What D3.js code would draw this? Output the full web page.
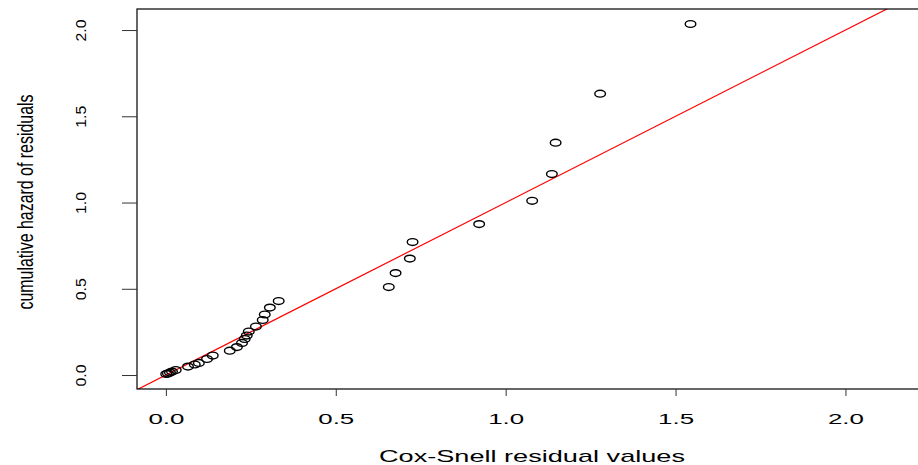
<!DOCTYPE html>
<meta charset="utf-8">
<style>
  body { margin: 0; background: #fff; }
  text { font-family: "Liberation Sans", Arial, sans-serif; fill: #000; }
  .tick line { stroke: #333; }
</style>
<body>
<script src="https://d3js.org/d3.v7.min.js"></script>
<script>

// Cox-Snell residuals vs cumulative hazard
var residuals = [0.001, 0.006, 0.012, 0.018, 0.029, 0.065, 0.085, 0.097, 0.121, 0.138,
                 0.188, 0.209, 0.224, 0.232, 0.238, 0.244, 0.265, 0.285, 0.291, 0.306,
                 0.332, 0.656, 0.676, 0.718, 0.726, 0.922, 1.078, 1.136, 1.147, 1.278, 1.544];
var cumHazard = [0.006, 0.009, 0.014, 0.020, 0.029, 0.049, 0.061, 0.070, 0.093, 0.113,
                 0.141, 0.162, 0.186, 0.209, 0.229, 0.252, 0.281, 0.319, 0.351, 0.391,
                 0.429, 0.510, 0.591, 0.675, 0.771, 0.875, 1.010, 1.165, 1.347, 1.631, 2.035];
var xTicks = [0, 0.5, 1.0, 1.5, 2.0];
var yTicks = [0, 0.5, 1.0, 1.5, 2.0];

var width = 918,
    height = 465,
    plotL = 137, plotR = 927, plotT = 9, plotB = 389;

var x = d3.scaleLinear().domain([-0.085, 2.24]).range([plotL, plotR]);
var y = d3.scaleLinear().domain([-0.081, 2.122]).range([plotB, plotT]);

var svg = d3.select("body").append("svg")
    .attr("width", width)
    .attr("height", height);

svg.append("clipPath").attr("id", "plotclip")
  .append("rect")
    .attr("x", plotL).attr("y", plotT)
    .attr("width", plotR - plotL).attr("height", plotB - plotT);

// reference line y = x
svg.append("line")
    .attr("clip-path", "url(#plotclip)")
    .attr("x1", x(-0.2)).attr("y1", y(-0.2))
    .attr("x2", x(2.5)).attr("y2", y(2.5))
    .attr("stroke", "#ff0000")
    .attr("stroke-width", 1.2);

// points
svg.append("g").selectAll("ellipse")
    .data(residuals)
  .enter().append("ellipse")
    .attr("cx", function(d) { return x(d); })
    .attr("cy", function(d, i) { return y(cumHazard[i]); })
    .attr("rx", 5.3)
    .attr("ry", 3.4)
    .attr("fill", "none")
    .attr("stroke", "#000")
    .attr("stroke-width", 1.4);

// box
svg.append("rect")
    .attr("x", plotL).attr("y", plotT)
    .attr("width", plotR - plotL).attr("height", plotB - plotT)
    .attr("fill", "none")
    .attr("stroke", "#000")
    .attr("stroke-width", 1.2);

// x axis
var gx = svg.append("g")
    .attr("transform", "translate(0," + plotB + ")")
    .call(d3.axisBottom(x).tickValues(xTicks).tickSize(7).tickFormat(d3.format(".1f")));
gx.select(".domain").remove();
gx.selectAll("text")
    .attr("y", 35)
    .attr("dy", null)
    .attr("font-size", 14)
    .attr("textLength", 36)
    .attr("lengthAdjust", "spacingAndGlyphs");

// y axis
var gy = svg.append("g")
    .attr("transform", "translate(" + plotL + ",0)")
    .call(d3.axisLeft(y).tickValues(yTicks).tickSize(15).tickFormat(d3.format(".1f")));
gy.select(".domain").remove();
gy.selectAll("text")
    .attr("transform", "rotate(-90)")
    .attr("x", 0)
    .attr("y", -51)
    .attr("dy", null)
    .attr("text-anchor", "middle")
    .attr("font-size", 15)
    .attr("textLength", 22)
    .attr("lengthAdjust", "spacingAndGlyphs");

// axis titles
svg.append("text")
    .attr("x", 532)
    .attr("y", 462)
    .attr("text-anchor", "middle")
    .attr("font-size", 17)
    .attr("textLength", 306)
    .attr("lengthAdjust", "spacingAndGlyphs")
    .text("Cox-Snell residual values");

svg.append("text")
    .attr("transform", "translate(33,202)rotate(-90)")
    .attr("text-anchor", "middle")
    .attr("font-size", 22)
    .attr("textLength", 215)
    .attr("lengthAdjust", "spacingAndGlyphs")
    .text("cumulative hazard of residuals");

</script>
</body>
</html>
